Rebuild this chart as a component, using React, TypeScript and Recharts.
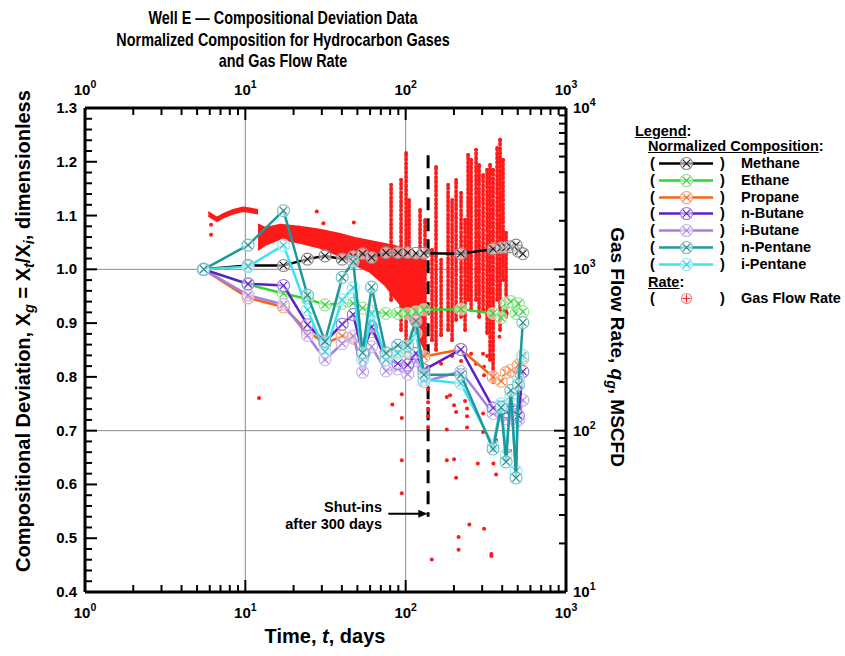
import React from "react";
import {
  Area,
  CartesianGrid,
  ComposedChart,
  ErrorBar,
  ReferenceDot,
  ReferenceLine,
  Scatter,
  XAxis,
  YAxis,
} from "recharts";

const FONT = '"Liberation Sans", Arial, Helvetica, sans-serif';
const RED = "#ff1a1a";

// sampling times of the gas analyses (days)
const sampleDays = [5.5, 10.4, 17.3, 24.4, 31.4, 40.2, 47.1, 53.9, 61.3, 75.4, 89.3, 103, 116, 130, 221, 351, 394, 423, 453, 488, 505, 538];

// normalized composition X_t / X_i
const methane = [1.0, 1.007, 1.007, 1.019, 1.025, 1.019, 1.024, 1.029, 1.022, 1.031, 1.031, 1.031, 1.03, 1.03, 1.029, 1.038, 1.04, 1.041, 1.042, 1.045, 1.034, 1.029];
const ethane = [1.0, 0.972, 0.955, 0.945, 0.934, 0.937, 0.937, 0.928, 0.922, 0.918, 0.918, 0.918, 0.921, 0.925, 0.926, 0.918, 0.91, 0.937, 0.94, 0.918, 0.936, 0.921];
const propane = [1.0, 0.947, 0.93, 0.885, 0.862, 0.876, 0.872, 0.86, 0.884, 0.845, 0.848, 0.846, 0.842, 0.838, 0.851, 0.8, 0.792, 0.808, 0.812, 0.806, 0.822, 0.835];
const nButane = [1.0, 0.973, 0.97, 0.897, 0.865, 0.898, 0.916, 0.844, 0.893, 0.832, 0.825, 0.822, 0.844, 0.813, 0.851, 0.742, 0.745, 0.735, 0.74, 0.73, 0.728, 0.81];
const iButane = [1.0, 0.952, 0.935, 0.877, 0.832, 0.862, 0.876, 0.809, 0.856, 0.811, 0.815, 0.805, 0.83, 0.791, 0.81, 0.732, 0.735, 0.722, 0.728, 0.717, 0.72, 0.757];
const nPentane = [1.0, 1.045, 1.109, 0.952, 0.866, 0.985, 1.014, 0.845, 0.967, 0.844, 0.859, 0.858, 0.904, 0.804, 0.804, 0.666, 0.743, 0.642, 0.775, 0.612, 0.785, 0.901];
const iPentane = [1.0, 1.005, 1.045, 0.925, 0.847, 0.943, 0.966, 0.832, 0.918, 0.832, 0.844, 0.85, 0.881, 0.795, 0.788, 0.672, 0.75, 0.655, 0.765, 0.625, 0.795, 0.84];

// gas flow rate (MSCFD): dense bands, vertical streaks after shut-ins, stray points
const earlyDays = [5.88, 6.2, 6.66, 7.26, 8.38, 9.68, 10.7, 12.0];
const earlyLow = [2146, 2071, 1985, 2086, 2209, 2289, 2257, 2209];
const earlyHigh = [2272, 2193, 2101, 2208, 2339, 2423, 2389, 2339];

const bandDays = [12.0, 13.3, 16.5, 21.9, 29.2, 39.0, 48.3, 60.0, 74.4, 85.9, 99.1, 114.5, 132];
const bandLow = [1320, 1418, 1544, 1459, 1358, 1211, 1065, 964, 800, 664, 560, 420, 316];
const bandHigh = [1900, 1807, 1887, 1834, 1757, 1659, 1567, 1501, 1438, 1398, 1320, 1228, 1177];

const streakDays = [81.1, 93.6, 100.6, 105, 123, 132, 146, 154.7, 166.3, 183.9, 194.8, 206.3, 221.6, 234.7, 245.1, 255.9, 274.9, 287.1, 304, 322, 336, 351, 372, 388, 405, 423];
const streakLow = [646, 420, 339, 646, 364, 294, 364, 316, 391, 420, 364, 485, 506, 420, 646, 560, 646, 506, 560, 403, 274, 200, 646, 420, 859, 506];
const streakHigh = [3344, 3592, 5284, 2698, 2339, 2027, 1320, 4325, 1144, 3344, 2698, 3592, 2983, 2027, 5135, 4781, 5515, 4450, 3858, 4143, 4450, 4143, 5675, 6365, 4781, 1683];

const strayDays = [6.11, 6.11, 12.18, 27.9, 30.7, 47.5, 82.6, 94.6, 94.6, 94.6, 94.6, 138, 138, 138, 138, 145.5, 180.5, 180.5, 180.5, 189.2, 200.4, 200.4, 206.3, 206.3, 213.8, 213.8, 234.7, 241.5, 241.5, 241.5, 249.7, 281.7, 304, 304, 308.4, 342.4, 342.4, 352.4, 366.4, 366.4, 448.1, 234.7, 304, 308.4, 308.4, 427.2, 384.2, 166.3, 195, 221.6, 255.9, 274.9, 322, 138, 138];
const strayRates = [1887, 1636, 159.6, 2283, 1933, 1950, 145.3, 168.3, 119.9, 65.5, 41.0, 180, 150, 122.9, 105.4, 15.9, 161.9, 101.6, 65.5, 165.9, 143.8, 66.4, 130.6, 51.1, 21.9, 18.3, 152.9, 137.2, 122.9, 104.5, 26.2, 62.5, 127.7, 98.2, 24.7, 17.2, 16.7, 62.5, 53.4, 87.2, 74.8, 300, 300, 248.7, 220.8, 533.7, 382, 260, 290, 270, 300, 260, 290, 135, 240];

// axes
const leftMajor = [0.4, 0.5, 0.6, 0.7, 0.8, 0.9, 1.0, 1.1, 1.2, 1.3];
const dayDecades = [1, 10, 100, 1000];
const rateDecades = [10, 100, 1000, 10000];

// shut-in annotation
const shutInDay = 138;
const shutInTop = 1.212;
const shutInBottom = 0.54;
const arrowFromDay = 78;
const arrowToDay = 136.5;
const arrowLevel = 0.5455;

const logTicks = (decades: number[]) => {
  const out: number[] = [];
  decades.forEach((d, i) => {
    if (i === decades.length - 1) out.push(d);
    else for (let k = 1; k <= 9; k++) out.push(d * k);
  });
  return out;
};
const dayTicks = logTicks(dayDecades);
const rateTicks = logTicks(rateDecades);
const leftTicks: number[] = [];
for (let i = 0; i <= 45; i++) leftTicks.push(Math.round((0.4 + i * 0.02) * 100) / 100);

const isDecade = (v: number) => Math.abs(Math.log10(v) - Math.round(Math.log10(v))) < 1e-6;
const isTenth = (v: number) => leftMajor.some((m) => Math.abs(m - v) < 1e-6);

const series = [
  { name: "Methane", values: methane, line: "#000000", ring: "#8a8a8a", cross: "#1a1a1a" },
  { name: "Ethane", values: ethane, line: "#2fd62f", ring: "#8fe68f", cross: "#38c838" },
  { name: "Propane", values: propane, line: "#f2661c", ring: "#f5a878", cross: "#ef6a20" },
  { name: "n-Butane", values: nButane, line: "#5a1fc8", ring: "#9a7ade", cross: "#5a1fc8" },
  { name: "i-Butane", values: iButane, line: "#a87ee2", ring: "#c8b0ee", cross: "#a87ee2" },
  { name: "n-Pentane", values: nPentane, line: "#1e999b", ring: "#70c0c2", cross: "#1e8a8c" },
  { name: "i-Pentane", values: iPentane, line: "#3de2f0", ring: "#8eeaf3", cross: "#32c6d4" },
];
// draw order: lighter pentane under n-pentane, as in the source plot
const drawOrder = ["Methane", "Ethane", "Propane", "i-Butane", "n-Butane", "i-Pentane", "n-Pentane"];

const axisLine = { stroke: "#000", strokeWidth: 3 };
const labelProps = { fontFamily: FONT, fontWeight: "bold" as const, fill: "#000" };

function Pow({ x, y, exp, anchor }: { x: number; y: number; exp: number; anchor: "start" | "middle" | "end" }) {
  return (
    <text x={x} y={y} textAnchor={anchor} fontSize={15} {...labelProps}>
      10
      <tspan dy={-7} fontSize={10.5}>
        {exp}
      </tspan>
    </text>
  );
}

const BottomTick = (p: any) => {
  const v = p.payload.value;
  const major = isDecade(v);
  return (
    <g>
      <line x1={p.x} x2={p.x} y1={p.y} y2={p.y - (major ? 12 : 7)} stroke="#000" strokeWidth={2} />
      {major && <Pow x={p.x} y={p.y + 26} exp={Math.round(Math.log10(v))} anchor="middle" />}
    </g>
  );
};

const TopTick = (p: any) => {
  const v = p.payload.value;
  const major = isDecade(v);
  return (
    <g>
      <line x1={p.x} x2={p.x} y1={p.y} y2={p.y + (major ? 12 : 7)} stroke="#000" strokeWidth={2} />
      {major && <Pow x={p.x} y={p.y - 13} exp={Math.round(Math.log10(v))} anchor="middle" />}
    </g>
  );
};

const LeftTick = (p: any) => {
  const v = p.payload.value;
  const major = isTenth(v);
  return (
    <g>
      <line x1={p.x} x2={p.x + (major ? 12 : 7)} y1={p.y} y2={p.y} stroke="#000" strokeWidth={2} />
      {major && (
        <text x={p.x - 8} y={p.y + 5} textAnchor="end" fontSize={15} {...labelProps}>
          {v.toFixed(1)}
        </text>
      )}
    </g>
  );
};

const RightTick = (p: any) => {
  const v = p.payload.value;
  const major = isDecade(v);
  return (
    <g>
      <line x1={p.x} x2={p.x - (major ? 12 : 7)} y1={p.y} y2={p.y} stroke="#000" strokeWidth={2} />
      {major && <Pow x={p.x + 7} y={p.y + 5} exp={Math.round(Math.log10(v))} anchor="start" />}
    </g>
  );
};

function XMark({ cx, cy, ring, cross }: { cx: number; cy: number; ring: string; cross: string }) {
  const d = 3.6;
  return (
    <g>
      <circle cx={cx} cy={cy} r={6} fill="rgba(255,255,255,0.55)" stroke={ring} strokeWidth={1.1} />
      <path d={`M${cx - d},${cy - d}L${cx + d},${cy + d}M${cx - d},${cy + d}L${cx + d},${cy - d}`} stroke={cross} strokeWidth={1.1} />
    </g>
  );
}

const legendFont = `bold 14.5px ${FONT}`;

function LegendRow({ top, label, children }: { top: number; label: string; children: React.ReactNode }) {
  return (
    <div style={{ position: "absolute", left: 0, top, height: 17, width: 845, font: legendFont, lineHeight: "17px" }}>
      <span style={{ position: "absolute", left: 650 }}>(</span>
      <svg style={{ position: "absolute", left: 656, top: 0 }} width={62} height={17}>
        {children}
      </svg>
      <span style={{ position: "absolute", left: 720 }}>)</span>
      <span style={{ position: "absolute", left: 741 }}>{label}</span>
    </div>
  );
}

export default function App() {
  const earlyBand = earlyDays.map((t, i) => ({ t, q: [earlyLow[i], earlyHigh[i]] }));
  const mainBand = bandDays.map((t, i) => ({ t, q: [bandLow[i], bandHigh[i]] }));
  const streaks = streakDays.map((t, i) => ({ t, q: streakLow[i], err: [0, streakHigh[i] - streakLow[i]] }));
  const strays = strayDays.map((t, i) => ({ t, q: strayRates[i] }));

  const ordered = drawOrder.map((n) => series.find((s) => s.name === n)!);

  return (
    <div style={{ position: "absolute", left: 0, top: 0, width: 845, height: 656, background: "#fff", fontFamily: FONT }}>
      <ComposedChart width={845} height={656} margin={{ top: 78, right: 239, bottom: 34, left: 45 }}>
        <CartesianGrid
          xAxisId="bottom"
          yAxisId="left"
          horizontalValues={[1.0, 0.7]}
          verticalValues={[10, 100]}
          stroke="#8c8c8c"
          strokeWidth={1}
        />
        <XAxis
          xAxisId="bottom"
          dataKey="t"
          type="number"
          scale="log"
          domain={[1, 1000]}
          allowDataOverflow
          ticks={dayTicks}
          interval={0}
          tick={BottomTick}
          tickLine={false}
          tickSize={0}
          tickMargin={0}
          axisLine={axisLine}
          height={30}
        />
        <XAxis
          xAxisId="top"
          orientation="top"
          dataKey="t"
          type="number"
          scale="log"
          domain={[1, 1000]}
          allowDataOverflow
          ticks={dayTicks}
          interval={0}
          tick={TopTick}
          tickLine={false}
          tickSize={0}
          tickMargin={0}
          axisLine={axisLine}
          height={30}
        />
        <YAxis
          yAxisId="left"
          dataKey="v"
          type="number"
          domain={[0.4, 1.3]}
          allowDataOverflow
          ticks={leftTicks}
          interval={0}
          tick={LeftTick}
          tickLine={false}
          tickSize={0}
          tickMargin={0}
          axisLine={axisLine}
          width={40}
        />
        <YAxis
          yAxisId="right"
          orientation="right"
          dataKey="q"
          type="number"
          scale="log"
          domain={[10, 10000]}
          allowDataOverflow
          ticks={rateTicks}
          interval={0}
          tick={RightTick}
          tickLine={false}
          tickSize={0}
          tickMargin={0}
          axisLine={axisLine}
          width={40}
        />

        <Area data={earlyBand} dataKey="q" xAxisId="bottom" yAxisId="right" type="linear" fill={RED} fillOpacity={1} stroke={RED} strokeWidth={1.5} isAnimationActive={false} />
        <Area data={mainBand} dataKey="q" xAxisId="bottom" yAxisId="right" type="linear" fill={RED} fillOpacity={1} stroke={RED} strokeWidth={2} isAnimationActive={false} />
        <Scatter data={streaks} xAxisId="bottom" yAxisId="right" shape={() => <g />} isAnimationActive={false}>
          <ErrorBar dataKey="err" direction="y" width={0} stroke={RED} strokeWidth={3.6} strokeDasharray="2 2.4" strokeLinecap="round" />
        </Scatter>
        <Scatter
          data={strays}
          xAxisId="bottom"
          yAxisId="right"
          shape={(p: any) => <circle cx={p.cx} cy={p.cy} r={2} fill={RED} />}
          isAnimationActive={false}
        />

        <ReferenceLine
          xAxisId="bottom"
          yAxisId="left"
          segment={[
            { x: shutInDay, y: shutInTop },
            { x: shutInDay, y: shutInBottom },
          ]}
          stroke="#000"
          strokeWidth={3}
          strokeDasharray="13 8"
        />
        <ReferenceLine
          xAxisId="bottom"
          yAxisId="left"
          segment={[
            { x: arrowFromDay, y: arrowLevel },
            { x: arrowToDay - 4, y: arrowLevel },
          ]}
          stroke="#000"
          strokeWidth={2}
        />
        <ReferenceDot
          xAxisId="bottom"
          yAxisId="left"
          x={arrowToDay}
          y={arrowLevel}
          shape={(p: any) => <path d={`M${p.cx},${p.cy}L${p.cx - 9},${p.cy - 4}L${p.cx - 9},${p.cy + 4}Z`} fill="#000" />}
        />

        {ordered.map((s) => (
          <Scatter
            key={s.name}
            name={s.name}
            data={sampleDays.map((t, i) => ({ t, v: s.values[i] }))}
            xAxisId="bottom"
            yAxisId="left"
            line={{ stroke: s.line, strokeWidth: 2.5 }}
            lineType="joint"
            shape={(p: any) => <XMark cx={p.cx} cy={p.cy} ring={s.ring} cross={s.cross} />}
            isAnimationActive={false}
          />
        ))}
      </ComposedChart>

      <svg width={845} height={656} style={{ position: "absolute", left: 0, top: 0, pointerEvents: "none" }}>
        {/* title set in a narrow face */}
        <g transform="translate(283,0) scale(0.8,1)" {...labelProps} fontSize={18} textAnchor="middle">
          <text x={0} y={24}>Well E — Compositional Deviation Data</text>
          <text x={0} y={46}>Normalized Composition for Hydrocarbon Gases</text>
          <text x={0} y={67}>and Gas Flow Rate</text>
        </g>
        <text x={325} y={643} textAnchor="middle" fontSize={20} {...labelProps}>
          <tspan>{"Time, "}</tspan>
          <tspan fontStyle="italic">t</tspan>
          <tspan>{", days"}</tspan>
        </text>
        <text transform="translate(30,331) rotate(-90)" textAnchor="middle" fontSize={20} {...labelProps}>
          <tspan>{"Compositional Deviation, X"}</tspan>
          <tspan dy={4} fontSize={14.5} fontStyle="italic">g</tspan>
          <tspan dy={-4}>{" = X"}</tspan>
          <tspan dy={4} fontSize={14.5} fontStyle="italic">t</tspan>
          <tspan dy={-4}>{"/X"}</tspan>
          <tspan dy={4} fontSize={14.5} fontStyle="italic">i</tspan>
          <tspan dy={-4}>{", dimensionless"}</tspan>
        </text>
        <text transform="translate(611,347) rotate(90)" textAnchor="middle" fontSize={19} {...labelProps}>
          <tspan>{"Gas Flow Rate, "}</tspan>
          <tspan fontStyle="italic">q</tspan>
          <tspan dy={4} fontSize={14} fontStyle="italic">g</tspan>
          <tspan dy={-4}>{", MSCFD"}</tspan>
        </text>
        <g {...labelProps} fontSize={14.5} textAnchor="end">
          <text x={382} y={512}>Shut-ins</text>
          <text x={382} y={529}>after 300 days</text>
        </g>
      </svg>

      <div style={{ position: "absolute", left: 635, top: 123, font: legendFont, lineHeight: "17px" }}>
        <span style={{ textDecoration: "underline" }}>Legend</span>:
      </div>
      <div style={{ position: "absolute", left: 648, top: 138, font: legendFont, lineHeight: "17px" }}>
        <span style={{ textDecoration: "underline" }}>Normalized Composition</span>:
      </div>
      {series.map((s, i) => (
        <LegendRow key={s.name} top={155 + i * 16.8} label={s.name}>
          <line x1={3} x2={57} y1={8.5} y2={8.5} stroke={s.line} strokeWidth={2.5} />
          <XMark cx={30.5} cy={8.5} ring={s.ring} cross={s.cross} />
        </LegendRow>
      ))}
      <div style={{ position: "absolute", left: 648, top: 274, font: legendFont, lineHeight: "17px" }}>
        <span style={{ textDecoration: "underline" }}>Rate</span>:
      </div>
      <LegendRow top={290} label="Gas Flow Rate">
        <circle cx={30.5} cy={8.5} r={5} fill="none" stroke="#f08080" strokeWidth={1.1} />
        <path d="M30.5,4.5L30.5,12.5M26.5,8.5L34.5,8.5" stroke={RED} strokeWidth={1} />
      </LegendRow>
    </div>
  );
}
